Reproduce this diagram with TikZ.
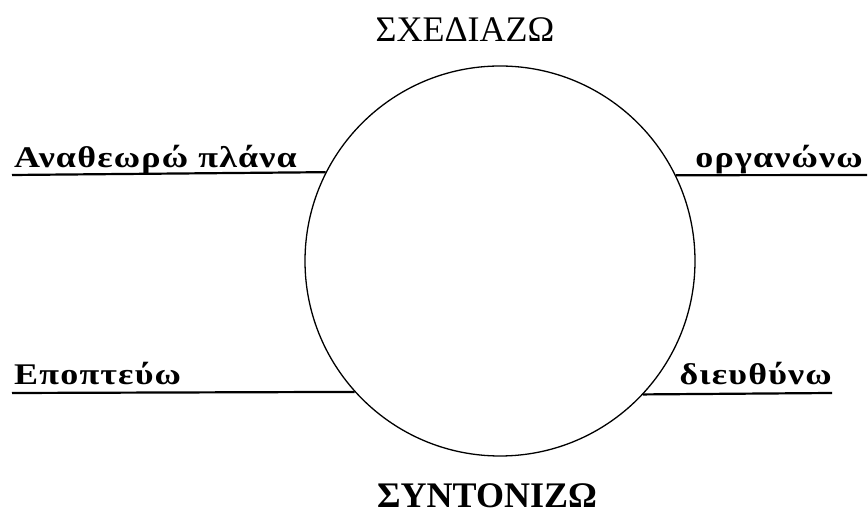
\documentclass[tikz,border=0pt]{standalone}
\usepackage{fontspec}
\setmainfont{Liberation Serif}
\newfontfamily\verbfont[FakeStretch=1.2, LetterSpace=4]{Liberation Serif}
\begin{document}
\begin{tikzpicture}[x=1pt, y=1pt, every node/.style={inner sep=0pt},
    title/.style={font=\fontsize{36}{40}\selectfont},
    verb/.style={font=\fontsize{30}{34}\verbfont\bfseries},
    rule/.style={line width=2.2pt}]
        \useasboundingbox (0,0) rectangle (868,516);
        \node (circ) [circle, draw, line width=1.3pt, minimum size=390pt] at (500,255) {};
        \node (plan) [title] at (465,486) {ΣΧΕΔΙΑΖΩ};
        \node (coord) [title, font=\fontsize{36}{40}\selectfont\bfseries] at (487,20) {ΣΥΝΤΟΝΙΖΩ};

        \coordinate (revL) at (12,341);
        \coordinate (orgR) at (867,341);
        \coordinate (supL) at (12,123);
        \coordinate (dirR) at (832,123);

        \node (rev) [verb, anchor=base west] at (14,348) {Αναθεωρώ πλάνα};
        \node (org) [verb, anchor=base east] at (863,348) {οργανώνω};
        \node (sup) [verb, anchor=base west] at (14,131) {Εποπτεύω};
        \node (dir) [verb, anchor=base east] at (832,131) {διευθύνω};

        \draw[rule] (revL) -- (circ.153.8);
        \draw[rule] (circ.26.2) -- (orgR);
        \draw[rule] (supL) -- (circ.222.6);
        \draw[rule] (circ.317.4) -- (dirR);
    \end{tikzpicture}
\end{document}
